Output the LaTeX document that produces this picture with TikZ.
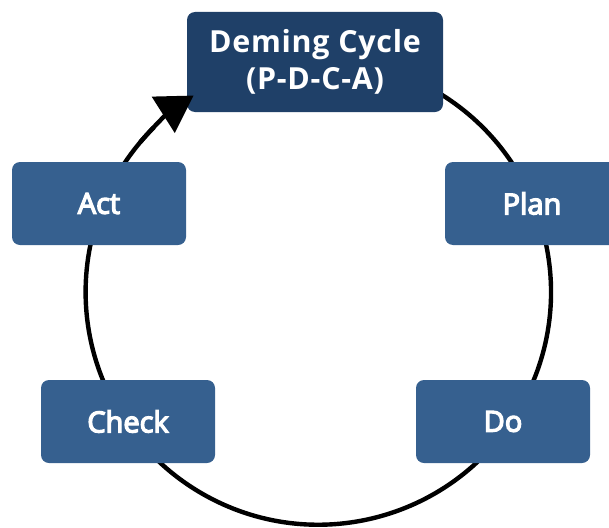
\documentclass[tikz,border=0pt]{standalone}
\usepackage{fontspec}
\setmainfont{Open Sans}
\newfontfamily\labelfont{Open Sans}[FakeBold=4.5]
\newfontfamily\titlefont{Open Sans}[LetterSpace=2.5]
\usetikzlibrary{arrows.meta}
\definecolor{navy}{HTML}{1F4068}
\definecolor{stepblue}{HTML}{36608F}
\begin{document}
\begin{tikzpicture}[x=1pt,y=-1pt,
 box/.style={rectangle, rounded corners=8pt, fill=stepblue, text=white, minimum width=174pt, minimum height=83pt, inner sep=0pt, font=\labelfont\fontsize{29}{34}\selectfont},
 title/.style={box, fill=navy, minimum width=256pt, minimum height=100pt, align=center, font=\titlefont\fontsize{30.4}{36.7}\selectfont\bfseries},
 ring/.style={line width=4.4pt},
 ringtip/.style={line width=4.4pt, -{Triangle[length=36pt,width=42pt]}}]
\useasboundingbox (0,0) rectangle (609,527);
\coordinate (c) at (318.3,292);
\draw[ring] (c) ++(-60:232.7) arc[start angle=-60, end angle=225, radius=232.7];
\node[title] (dem) at (315,62) {Deming Cycle\\(P-D-C-A)};
\node[box] (plan) at (532,203.5) {Plan};
\node[box] (act) at (99,203.5) {Act};
\node[box] (check) at (128,421.5) {Check};
\node[box] (do) at (503,421.5) {Do};
\draw[ringtip] (c) ++(220:232.7) arc[start angle=220, end angle=237.6, radius=232.7];
\end{tikzpicture}
\end{document}
